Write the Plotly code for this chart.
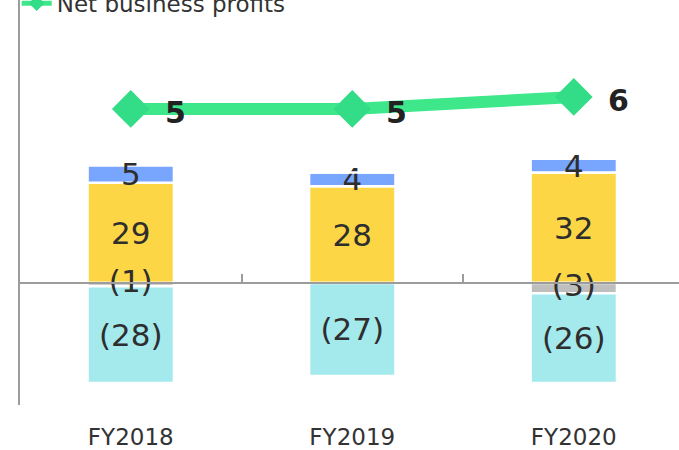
import plotly.graph_objects as go

categories = ["FY2018", "FY2019", "FY2020"]
seg_yellow = [29, 28, 32]
seg_blue = [5, 4, 4]
seg_gray = [-1, 0, -3]
seg_cyan = [-28, -27, -26]
net_profits = [5, 5, 6]
line_name = "Net business profits"

FONT = "DejaVu Sans, Verdana, sans-serif"
TXT = "#2e2e2e"
AXC = "#9c9c9c"


def fmt(vals):
    out = []
    for v in vals:
        if v == 0:
            out.append("")
        elif v < 0:
            out.append(f"({abs(v)})")
        else:
            out.append(str(v))
    return out


y_min, y_max = -35.4, 82.0
y2_min, y2_max = -19.67, 14.08
x_range = [-0.5, 2.475]
zero_frac = (0 - y_min) / (y_max - y_min)

fig = go.Figure()

bar_specs = [
    ("Segment 1", seg_yellow, "#FCD644", True),
    ("Segment 2", seg_blue, "#78A6FF", True),
    ("Segment 3", seg_gray, "#BEBEBE", False),
    ("Segment 4", seg_cyan, "#A4E9EC", True),
]
for name, vals, col, own_text in bar_specs:
    fig.add_trace(go.Bar(
        x=categories, y=vals, name=name, showlegend=False,
        marker=dict(color=col, line=dict(color="white", width=2.5)),
        width=0.39,
        text=fmt(vals) if own_text else None,
        textposition="inside", insidetextanchor="middle",
        textangle=0,
        textfont=dict(family=FONT, size=31, color=TXT),
        hoverinfo="skip",
    ))

# label of the thin grey segment, drawn above all bars
fig.add_trace(go.Scatter(
    x=categories, y=[v / 2 for v in seg_gray], mode="text",
    text=fmt(seg_gray), textposition="middle center",
    textfont=dict(family=FONT, size=31, color=TXT),
    showlegend=False, hoverinfo="skip",
))

fig.add_trace(go.Scatter(
    x=categories, y=net_profits, name=line_name, mode="lines+markers",
    xaxis="x2", yaxis="y2",
    line=dict(color="#3EE78A", width=12),
    marker=dict(symbol="diamond", size=29, color="#33DC86"),
    showlegend=True,
))

for c, v in zip(categories, net_profits):
    fig.add_annotation(
        x=c, y=v, xref="x2", yref="y2", text=f"<b>{v}</b>", showarrow=False,
        xanchor="left", yanchor="middle", xshift=32, yshift=-4,
        font=dict(family=FONT, size=30, color="#222222"),
    )

fig.update_layout(
    width=679, height=450,
    margin=dict(l=20, r=0, t=0, b=45, autoexpand=False),
    paper_bgcolor="white", plot_bgcolor="white",
    barmode="relative",
    uniformtext=dict(minsize=31, mode="show"),
    font=dict(family=FONT, color=TXT),
    showlegend=True,
    legend=dict(
        x=-0.005, y=1.045, xanchor="left", yanchor="top",
        font=dict(family=FONT, size=23, color="#333333"),
        bgcolor="rgba(0,0,0,0)", itemsizing="constant",
    ),
    xaxis=dict(
        type="category", categoryarray=categories, range=x_range,
        showline=False, showgrid=False, zeroline=False,
        ticks="outside", ticklen=11, tickcolor="rgba(0,0,0,0)",
        tickfont=dict(family=FONT, size=23, color="#333333"),
    ),
    xaxis2=dict(
        type="category", categoryarray=categories, range=x_range,
        overlaying="x", anchor="free", position=zero_frac, side="bottom",
        showline=True, linecolor=AXC, linewidth=2,
        ticks="inside", tickson="boundaries", ticklen=8, tickwidth=2, tickcolor=AXC,
        showticklabels=False, showgrid=False, zeroline=False,
        layer="above traces",
    ),
    yaxis=dict(
        range=[y_min, y_max], showline=True, linecolor=AXC, linewidth=2,
        showgrid=False, zeroline=False, showticklabels=False, ticks="",
    ),
    yaxis2=dict(
        range=[y2_min, y2_max], overlaying="y", anchor="free", position=0,
        visible=False, showgrid=False, zeroline=False,
    ),
)

fig.write_html(
    "out.html",
    config={"displayModeBar": False},
    post_script="document.body.style.margin='0';document.body.style.overflow='hidden';",
)
